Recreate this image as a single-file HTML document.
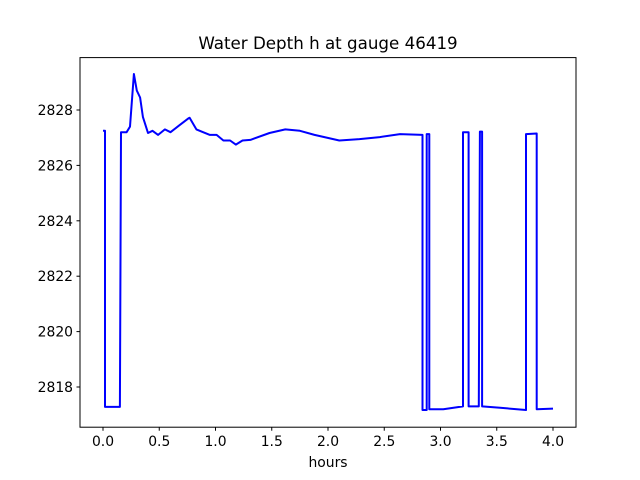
<!DOCTYPE html>
<html><head><meta charset="utf-8">
<style>
body{margin:0;background:#fff;}
svg{display:block;font-family:"DejaVu Sans","Liberation Sans",sans-serif;}
</style></head>
<body>
<svg id="chart" width="640" height="480" viewBox="0 0 640 480">
<rect width="640" height="480" fill="#fff"/>
<text x="328" y="49" font-size="16.7" text-anchor="middle">Water Depth h at gauge 46419</text>
<g id="plot"></g>
<rect x="80" y="57.6" width="496" height="369.6" fill="none" stroke="#000" stroke-width="1"/>
<text x="328" y="467" font-size="13.9" text-anchor="middle">hours</text>
</svg>
<script>
const hours=[0.0,0.018,0.018,0.15,0.16,0.21,0.24,0.275,0.30,0.33,0.355,0.40,0.44,0.49,0.55,0.60,0.68,0.76,0.77,0.83,0.89,0.95,1.01,1.07,1.13,1.18,1.24,1.31,1.48,1.62,1.75,1.88,2.10,2.28,2.46,2.64,2.84,2.84,2.877,2.877,2.90,2.90,3.025,3.2,3.2,3.25,3.25,3.34,3.35,3.37,3.37,3.53,3.76,3.76,3.855,3.855,4.0];
const depth=[2827.25,2827.25,2817.28,2817.28,2827.2,2827.2,2827.4,2829.3,2828.7,2828.45,2827.75,2827.17,2827.25,2827.1,2827.3,2827.2,2827.45,2827.7,2827.72,2827.3,2827.2,2827.1,2827.1,2826.9,2826.9,2826.75,2826.9,2826.92,2827.17,2827.3,2827.25,2827.1,2826.9,2826.95,2827.02,2827.13,2827.1,2817.17,2817.17,2827.13,2827.13,2817.2,2817.2,2817.3,2827.2,2827.2,2817.3,2817.3,2827.22,2827.22,2817.3,2817.25,2817.17,2827.13,2827.15,2817.2,2817.22];
const xTicks=[0.0,0.5,1.0,1.5,2.0,2.5,3.0,3.5,4.0];
const xTickLabels=["0.0","0.5","1.0","1.5","2.0","2.5","3.0","3.5","4.0"];
const yTicks=[2818,2820,2822,2824,2826,2828];
const yTickLabels=["2818","2820","2822","2824","2826","2828"];
const NS="http://www.w3.org/2000/svg";
function xs(v){return 103+v*112.5;}
function ys(v){return 110+(2828-v)*27.7;}
const g=document.getElementById('plot');
xTicks.forEach((t,i)=>{
  const l=document.createElementNS(NS,'line');
  
  
  l.setAttribute('x1',xs(t));l.setAttribute('x2',xs(t));l.setAttribute('y1',427.2);l.setAttribute('y2',430.7);l.setAttribute('stroke','#000');
  g.appendChild(l);
  const tx=document.createElementNS(NS,'text');
  
  
  tx.setAttribute('x',xs(t));tx.setAttribute('y',446);tx.setAttribute('font-size','13.9');tx.setAttribute('text-anchor','middle');
  tx.textContent=xTickLabels[i];g.appendChild(tx);
});
yTicks.forEach((t,i)=>{
  const l=document.createElementNS(NS,'line');
  
  
  l.setAttribute('x1',76.5);l.setAttribute('x2',80);l.setAttribute('y1',ys(t));l.setAttribute('y2',ys(t));l.setAttribute('stroke','#000');
  g.appendChild(l);
  const tx=document.createElementNS(NS,'text');
  
  
  tx.setAttribute('x',73);tx.setAttribute('y',ys(t)+5);tx.setAttribute('font-size','13.9');tx.setAttribute('text-anchor','end');
  tx.textContent=yTickLabels[i];g.appendChild(tx);
});
const p=document.createElementNS(NS,'polyline');


p.setAttribute('points',hours.map((h,i)=>xs(h).toFixed(1)+','+ys(depth[i]).toFixed(1)).join(' '));
p.setAttribute('fill','none');p.setAttribute('stroke','#0000ff');p.setAttribute('stroke-width','2');p.setAttribute('stroke-linejoin','round');
g.appendChild(p);
</script>
</body></html>
